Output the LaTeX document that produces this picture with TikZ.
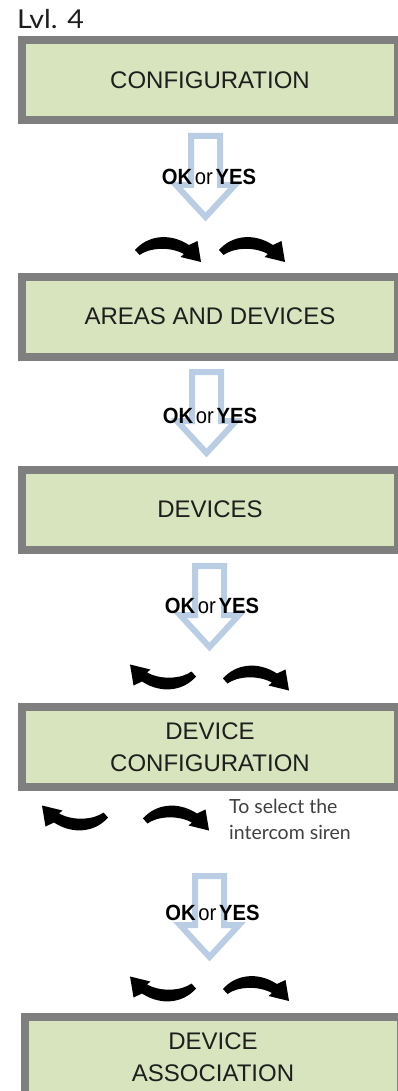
\documentclass[tikz,border=0pt]{standalone}
\usepackage{fontspec}
\setmainfont{Liberation Sans}
\newfontfamily\latofont{Lato}
\usepackage{graphicx}
\definecolor{boxfill}{HTML}{D7E4BD}
\definecolor{boxline}{HTML}{7F7F7F}
\definecolor{blueA}{HTML}{B9CDE5}
\definecolor{txt}{HTML}{1E1E1E}
\definecolor{notetxt}{HTML}{404040}
\tikzset{
  stepbox/.style={draw=boxline, fill=boxfill, line width=8pt, minimum width=376pt,
    minimum height=80pt, inner sep=0pt, align=center, text=txt,
    font=\fontsize{24}{31.5}\selectfont},
  oklabel/.style={inner sep=0pt, text=black, font=\fontsize{22}{26}\selectfont},
  okarrow/.pic={\draw[blueA, line width=6pt, line join=miter]
      (-14.5,3) -- (14.5,3) -- (14.5,52) -- (29.5,52) -- (0,84) -- (-29.5,52) -- (-14.5,52) -- cycle;},
  archR/.pic={\fill[black] (-32.5,1) .. controls (-20.5,-13) and (1.5,-17) .. (21.5,-4)
      -- (30,-8) -- (33.5,13) -- (13,8) -- (16.5,5)
      .. controls (1.5,-3) and (-18.5,-1) .. (-28,6) -- cycle;}
}
\newcommand{\okyes}{\scalebox{0.92}[1]{\textbf{OK}\hspace{3pt}or\hspace{3pt}\textbf{YES}}}
\begin{document}
\begin{tikzpicture}[x=1pt,y=-1pt]
\useasboundingbox (0,0) rectangle (398,1091);
% title
\node[anchor=base west, inner sep=0pt, text=txt, font=\latofont\fontsize{26}{28}\selectfont] (lvl) at (17,29) {\scalebox{1.1}[1]{Lvl.\hspace{9pt}4}};
% boxes
\node[stepbox] (b1) at (210,80) {CONFIGURATION};
\node[stepbox] (b2) at (210,316.5) {AREAS AND DEVICES};
\node[stepbox] (b3) at (210,509.5) {DEVICES};
\node[stepbox] (b4) at (210,747) {DEVICE\\CONFIGURATION};
\node[stepbox] (b5) at (213,1057) {DEVICE\\ASSOCIATION};
% blue arrows with labels
\pic at (205.5,133) {okarrow};
\node[oklabel] (ok1) at (209,177) {\okyes};
\pic at (206.5,369) {okarrow};
\node[oklabel] (ok2) at (210,416) {\okyes};
\pic at (209.5,563) {okarrow};
\node[oklabel] (ok3) at (212,606) {\okyes};
\pic at (209.5,873) {okarrow};
\node[oklabel] (ok4) at (212.5,913) {\okyes};
% curved arrows
\pic at (167.5,249) {archR};
\pic at (251.5,249) {archR};
\pic[rotate=180] at (163.5,677.5) {archR};
\pic at (255.5,677.5) {archR};
\pic[rotate=180] at (75.5,818.5) {archR};
\pic at (175.5,817.5) {archR};
\pic[rotate=180] at (163.5,989.5) {archR};
\pic at (255.5,988) {archR};
% note
\node[anchor=north west, inner sep=0pt, align=left, text=notetxt, font=\latofont\fontsize{19.5}{26}\selectfont] (note) at (229,799) {To select the\\intercom siren};
\end{tikzpicture}
\end{document}
